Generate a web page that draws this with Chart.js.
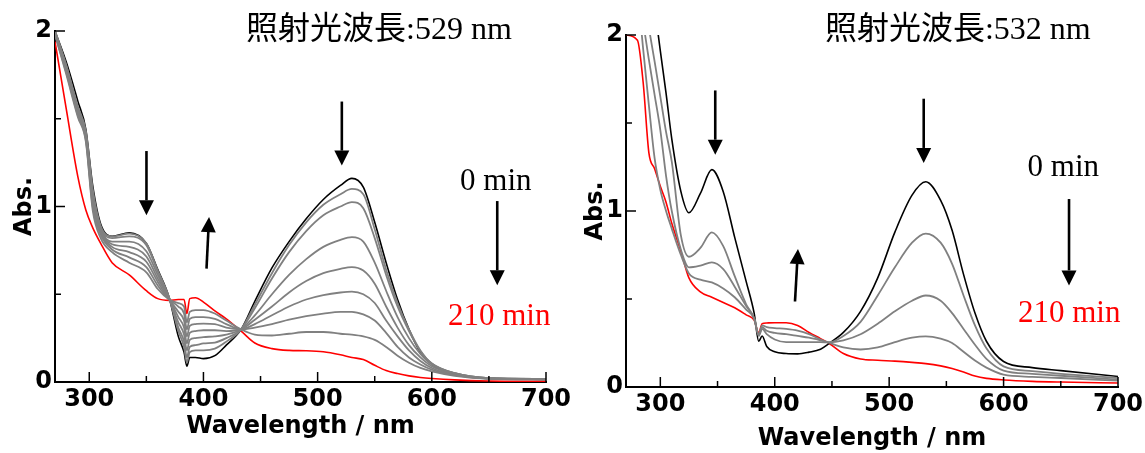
<!DOCTYPE html>
<html>
<head>
<meta charset="utf-8">
<script src="https://cdn.jsdelivr.net/npm/chart.js@4.4.0/dist/chart.umd.min.js"></script>
<style>
  html, body { margin: 0; padding: 0; background: #fff; }
  #wrap { position: relative; width: 1145px; height: 453px; overflow: hidden; }
  canvas { position: absolute; top: 0; }
</style>
</head>
<body>
<div id="wrap">
  <canvas id="chartA" width="572" height="453" style="left:0;width:572px;height:453px"></canvas>
  <canvas id="chartB" width="573" height="453" style="left:572px;width:573px;height:453px"></canvas>
</div>
<script>
// tick labels
const xTickLabels = ['300', '400', '500', '600', '700'];
const yTickLabels = ['0', '1', '2'];

// panel A : irradiation 529 nm (0 min -> 210 min)
const wlA = [270, 280, 290, 297, 303, 310, 320, 335, 350, 360, 370, 378, 383, 385.5, 388, 393, 400, 410, 420, 433,
             445, 460, 475, 490, 505, 520, 530, 540, 550, 560, 570, 580, 590, 600, 620, 650, 700];
const blackA = [2.00, 1.82, 1.60, 1.44, 1.12, 0.90, 0.83, 0.85, 0.79, 0.64, 0.48, 0.26, 0.17, 0.09, 0.14, 0.14, 0.133, 0.15, 0.21, 0.30,
                0.46, 0.65, 0.80, 0.93, 1.04, 1.12, 1.16, 1.11, 0.91, 0.68, 0.47, 0.30, 0.17, 0.10, 0.045, 0.02, 0.015];
const g1A = [2.00, 1.80, 1.57, 1.43, 1.10, 0.89, 0.83, 0.845, 0.79, 0.635, 0.48, 0.29, 0.20, 0.11, 0.17, 0.18, 0.18, 0.19, 0.23, 0.30,
             0.44, 0.62, 0.78, 0.91, 1.01, 1.07, 1.10, 1.07, 0.87, 0.64, 0.45, 0.30, 0.18, 0.105, 0.05, 0.022, 0.018];
const g2A = [2.00, 1.80, 1.56, 1.42, 1.08, 0.88, 0.82, 0.83, 0.78, 0.63, 0.48, 0.31, 0.23, 0.14, 0.20, 0.21, 0.22, 0.225, 0.25, 0.30,
             0.42, 0.59, 0.74, 0.86, 0.95, 1.00, 1.025, 0.99, 0.82, 0.61, 0.43, 0.29, 0.175, 0.105, 0.05, 0.022, 0.018];
const g3A = [2.00, 1.79, 1.55, 1.41, 1.06, 0.87, 0.80, 0.80, 0.745, 0.61, 0.475, 0.34, 0.27, 0.18, 0.24, 0.25, 0.256, 0.26, 0.27, 0.30,
             0.38, 0.50, 0.61, 0.70, 0.77, 0.81, 0.825, 0.80, 0.68, 0.52, 0.37, 0.25, 0.16, 0.10, 0.05, 0.022, 0.018];
const g4A = [1.99, 1.78, 1.54, 1.40, 1.04, 0.86, 0.785, 0.77, 0.715, 0.59, 0.475, 0.37, 0.31, 0.22, 0.28, 0.29, 0.295, 0.295, 0.29, 0.30,
             0.355, 0.43, 0.51, 0.575, 0.62, 0.645, 0.655, 0.635, 0.56, 0.43, 0.31, 0.21, 0.14, 0.09, 0.045, 0.02, 0.017];
const g5A = [1.99, 1.77, 1.53, 1.39, 1.02, 0.85, 0.77, 0.74, 0.685, 0.57, 0.47, 0.40, 0.35, 0.26, 0.32, 0.33, 0.333, 0.33, 0.31, 0.30,
             0.33, 0.38, 0.43, 0.47, 0.495, 0.51, 0.515, 0.50, 0.45, 0.35, 0.26, 0.18, 0.12, 0.08, 0.04, 0.02, 0.016];
const g6A = [1.98, 1.76, 1.52, 1.38, 1.00, 0.84, 0.755, 0.71, 0.655, 0.55, 0.47, 0.43, 0.39, 0.30, 0.36, 0.37, 0.37, 0.36, 0.33, 0.30,
             0.31, 0.33, 0.355, 0.375, 0.39, 0.40, 0.40, 0.385, 0.35, 0.28, 0.20, 0.14, 0.10, 0.07, 0.04, 0.02, 0.015];
const g7A = [1.98, 1.75, 1.51, 1.37, 0.98, 0.82, 0.74, 0.68, 0.625, 0.53, 0.47, 0.45, 0.43, 0.34, 0.40, 0.41, 0.41, 0.39, 0.35, 0.30,
             0.27, 0.265, 0.275, 0.285, 0.285, 0.275, 0.27, 0.26, 0.24, 0.20, 0.15, 0.11, 0.08, 0.06, 0.035, 0.018, 0.014];
const redA = [1.94, 1.55, 1.17, 0.98, 0.88, 0.79, 0.68, 0.61, 0.52, 0.475, 0.465, 0.47, 0.47, 0.39, 0.475, 0.48, 0.455, 0.405, 0.36, 0.29,
              0.222, 0.19, 0.18, 0.178, 0.172, 0.155, 0.14, 0.128, 0.095, 0.065, 0.048, 0.035, 0.026, 0.02, 0.012, 0.006, 0.004];

// panel B : irradiation 532 nm (0 min -> 210 min)
const wlB = [270, 280, 285, 290, 295, 300, 305, 310, 318, 325, 335, 345, 355, 365, 375, 382, 386, 389, 393, 400,
             410, 420, 430, 440, 447, 460, 475, 490, 505, 520, 532, 545, 555, 565, 575, 585, 600, 625, 650, 700];
const blackB = [3.4, 2.9, 2.65, 2.41, 2.16, 1.91, 1.67, 1.41, 1.11, 0.99, 1.10, 1.235, 1.11, 0.85, 0.60, 0.42, 0.26, 0.29, 0.23, 0.20,
                0.19, 0.188, 0.198, 0.215, 0.245, 0.31, 0.43, 0.62, 0.88, 1.09, 1.166, 1.06, 0.89, 0.64, 0.42, 0.26, 0.145, 0.11, 0.093, 0.06];
const g1B = [2.9, 2.4, 2.22, 2.04, 1.85, 1.65, 1.45, 1.28, 0.86, 0.74, 0.79, 0.878, 0.80, 0.63, 0.47, 0.39, 0.29, 0.33, 0.30, 0.27,
             0.255, 0.255, 0.255, 0.255, 0.253, 0.29, 0.37, 0.52, 0.68, 0.82, 0.872, 0.82, 0.70, 0.52, 0.35, 0.22, 0.117, 0.09, 0.075, 0.051];
const g2B = [2.6, 2.25, 2.07, 1.86, 1.66, 1.46, 1.2, 1.0, 0.78, 0.68, 0.69, 0.708, 0.67, 0.57, 0.46, 0.39, 0.295, 0.34, 0.32, 0.307,
             0.30, 0.29, 0.28, 0.265, 0.253, 0.265, 0.30, 0.36, 0.43, 0.49, 0.52, 0.49, 0.42, 0.33, 0.24, 0.16, 0.093, 0.075, 0.064, 0.042];
const g3B = [2.5, 2.25, 1.92, 1.6, 1.3, 1.12, 1.0, 0.9, 0.75, 0.645, 0.61, 0.594, 0.56, 0.51, 0.44, 0.39, 0.30, 0.35, 0.34, 0.335,
             0.33, 0.32, 0.30, 0.27, 0.253, 0.225, 0.213, 0.225, 0.255, 0.28, 0.288, 0.275, 0.25, 0.20, 0.15, 0.11, 0.07, 0.058, 0.051, 0.036];
const redB = [2.0, 1.97, 1.73, 1.33, 1.24, 1.14, 1.05, 0.93, 0.77, 0.62, 0.54, 0.51, 0.48, 0.45, 0.41, 0.38, 0.307, 0.36, 0.364, 0.365,
              0.365, 0.35, 0.31, 0.275, 0.25, 0.19, 0.159, 0.152, 0.147, 0.14, 0.133, 0.12, 0.105, 0.085, 0.062, 0.049, 0.04, 0.032, 0.028, 0.023];

const GRAY = '#808080';
const tickFont = { family: 'DejaVu Sans', size: 24, weight: 'bold' };
const serif = "'Liberation Serif', 'Noto Sans CJK JP', serif";

// draws an arrow, tip at (x2,y2)
function drawArrow(ctx, x1, y1, x2, y2) {
    const ang = Math.atan2(y2 - y1, x2 - x1);
    const hl = 15, hw = 7.5;
    const bx = x2 - hl * Math.cos(ang), by = y2 - hl * Math.sin(ang);
    ctx.strokeStyle = '#000';
    ctx.lineWidth = 2.6;
    ctx.beginPath();
    ctx.moveTo(x1, y1);
    ctx.lineTo(bx, by);
    ctx.stroke();
    ctx.fillStyle = '#000';
    ctx.beginPath();
    ctx.moveTo(x2, y2);
    ctx.lineTo(bx + hw * Math.sin(ang), by - hw * Math.cos(ang));
    ctx.lineTo(bx - hw * Math.sin(ang), by + hw * Math.cos(ang));
    ctx.closePath();
    ctx.fill();
}

// ticks pointing into the plot
const inTicks = {
    id: 'inTicks',
    afterDraw(chart) {
        const { ctx, chartArea: ca, scales: { x, y } } = chart;
        ctx.save();
        ctx.strokeStyle = '#000';
        ctx.lineWidth = 1.5;
        x.ticks.forEach(t => {
            const px = x.getPixelForValue(t.value);
            const len = xTickLabels.includes(String(t.value)) ? 10 : 6;
            ctx.beginPath();
            ctx.moveTo(px, ca.bottom);
            ctx.lineTo(px, ca.bottom - len);
            ctx.stroke();
        });
        y.ticks.forEach(t => {
            const py = y.getPixelForValue(t.value);
            const len = yTickLabels.includes(String(t.value)) ? 10 : 6;
            ctx.beginPath();
            ctx.moveTo(ca.left, py);
            ctx.lineTo(ca.left + len, py);
            ctx.stroke();
        });
        ctx.restore();
    }
};

// arrows and texts, placed with the chart's scales
const annot = {
    id: 'annot',
    afterDatasetsDraw(chart, args, opts) {
        const { ctx, scales: { x, y } } = chart;
        ctx.save();
        opts.arrows.forEach(a => {
            drawArrow(ctx, x.getPixelForValue(a.from[0]), y.getPixelForValue(a.from[1]),
                      x.getPixelForValue(a.to[0]), y.getPixelForValue(a.to[1]));
        });
        opts.texts.forEach(t => {
            ctx.font = t.font;
            ctx.fillStyle = t.color;
            ctx.textAlign = t.align;
            ctx.textBaseline = 'alphabetic';
            ctx.fillText(t.text, x.getPixelForValue(t.at[0]), y.getPixelForValue(t.at[1]));
        });
        ctx.restore();
    }
};

function makeChart(id, wl, series, cfg) {
    const datasets = series.map(s => ({
        data: wl.map((w, i) => ({ x: w, y: s.values[i] })),
        borderColor: s.color,
        borderWidth: s.width,
        pointRadius: 0,
        fill: false,
        cubicInterpolationMode: 'monotone'
    }));
    return new Chart(document.getElementById(id), {
        type: 'line',
        data: { datasets },
        options: {
            responsive: false,
            animation: false,
            events: [],
            layout: { padding: cfg.padding },
            plugins: {
                legend: { display: false },
                tooltip: { enabled: false },
                annot: { arrows: cfg.arrows, texts: cfg.texts }
            },
            scales: {
                x: {
                    type: 'linear', min: 270, max: 700,
                    afterFit: s => { s.height = cfg.xHeight; s.paddingLeft = 0; s.paddingRight = 0; },
                    ticks: {
                        stepSize: 50, includeBounds: false, autoSkip: false, maxRotation: 0, padding: 3,
                        color: '#000', font: tickFont,
                        callback: v => xTickLabels.includes(String(v)) ? String(v) : ''
                    },
                    grid: { display: false, drawTicks: false },
                    border: { color: '#000', width: 2 },
                    title: { display: true, text: 'Wavelength / nm', color: '#000', font: tickFont,
                             padding: { top: 0, bottom: cfg.xTitlePad } }
                },
                y: {
                    type: 'linear', min: 0, max: 2,
                    afterFit: s => { s.width = cfg.yWidth; s.paddingTop = 0; s.paddingBottom = 0; },
                    ticks: {
                        stepSize: 0.5, autoSkip: false, padding: 3,
                        color: '#000', font: tickFont,
                        callback: v => yTickLabels.includes(String(v)) ? String(v) : ''
                    },
                    grid: { display: false, drawTicks: false },
                    border: { color: '#000', width: 2 },
                    title: { display: true, text: 'Abs.', color: '#000', font: tickFont,
                             padding: { top: cfg.yTitlePad, bottom: 0 } }
                }
            }
        },
        plugins: [inTicks, annot]
    });
}

makeChart('chartA', wlA, [
    { values: g1A, color: GRAY, width: 1.8 },
    { values: g2A, color: GRAY, width: 1.8 },
    { values: g3A, color: GRAY, width: 1.8 },
    { values: g4A, color: GRAY, width: 1.8 },
    { values: g5A, color: GRAY, width: 1.8 },
    { values: g6A, color: GRAY, width: 1.8 },
    { values: g7A, color: GRAY, width: 1.8 },
    { values: blackA, color: '#000', width: 1.6 },
    { values: redA, color: '#ff0000', width: 1.6 }
], {
    padding: { left: 0, top: 31, right: 26, bottom: 0 },
    xHeight: 71, yWidth: 55, xTitlePad: 12, yTitlePad: 10,
    arrows: [
        { from: [350.1, 1.316], to: [350.1, 0.95] },
        { from: [402.7, 0.646], to: [404.9, 0.94] },
        { from: [521.2, 1.598], to: [521.2, 1.233] },
        { from: [657.3, 1.031], to: [657.3, 0.551] }
    ],
    texts: [
        { text: '照射光波長:529 nm', at: [437.3, 1.953], align: 'left', color: '#000', font: '32px ' + serif },
        { text: '0 min', at: [656, 1.092], align: 'center', color: '#000', font: '31px ' + serif },
        { text: '210 min', at: [659, 0.323], align: 'center', color: '#ff0000', font: '31px ' + serif }
    ]
});

makeChart('chartB', wlB, [
    { values: g1B, color: GRAY, width: 1.8 },
    { values: g2B, color: GRAY, width: 1.8 },
    { values: g3B, color: GRAY, width: 1.8 },
    { values: blackB, color: '#000', width: 1.6 },
    { values: redB, color: '#ff0000', width: 1.6 }
], {
    padding: { left: 0, top: 35, right: 27, bottom: 0 },
    xHeight: 66, yWidth: 54, xTitlePad: 0, yTitlePad: 9,
    arrows: [
        { from: [348, 1.685], to: [348, 1.32] },
        { from: [417.7, 0.486], to: [420.3, 0.784] },
        { from: [530.2, 1.638], to: [530.2, 1.273] },
        { from: [657.2, 1.068], to: [657.2, 0.577] }
    ],
    texts: [
        { text: '照射光波長:532 nm', at: [443.9, 1.979], align: 'left', color: '#000', font: '32px ' + serif },
        { text: '0 min', at: [652.2, 1.2], align: 'center', color: '#000', font: '31px ' + serif },
        { text: '210 min', at: [657.3, 0.367], align: 'center', color: '#ff0000', font: '31px ' + serif }
    ]
});
</script>
</body>
</html>
